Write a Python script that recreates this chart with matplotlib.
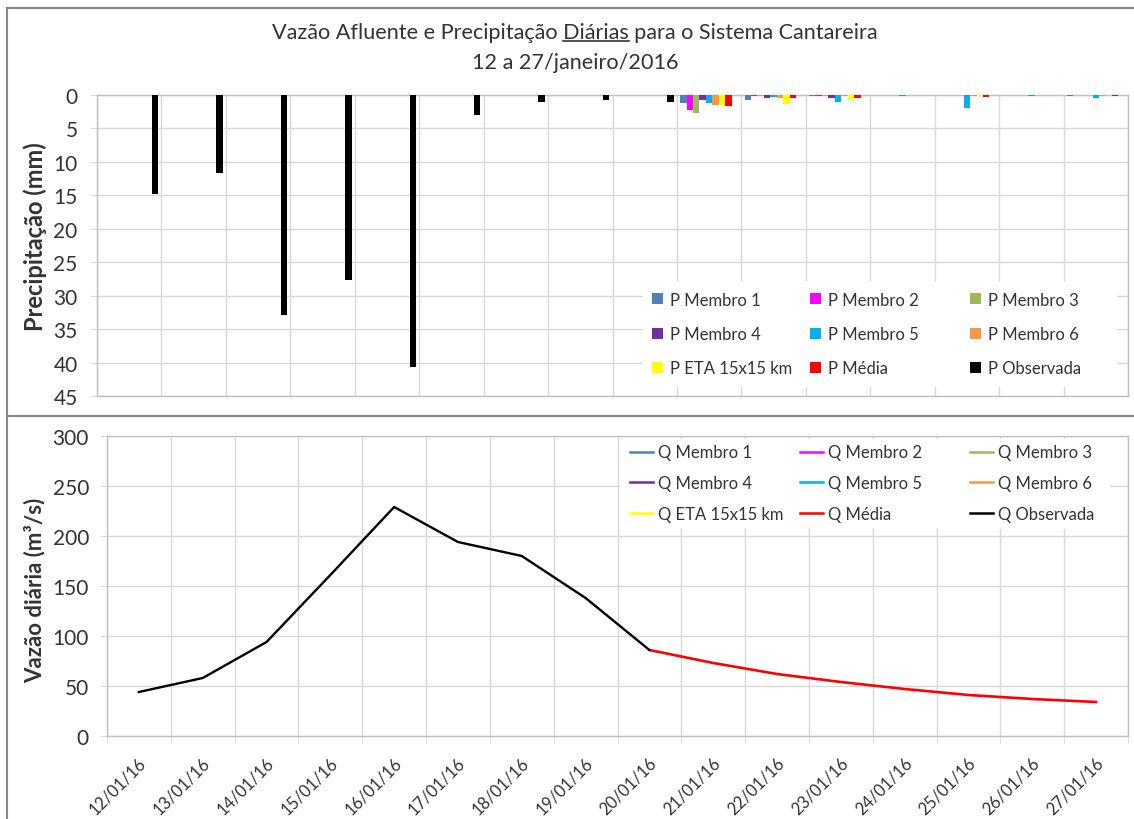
import numpy as np
import matplotlib
matplotlib.use("Agg")
import matplotlib.pyplot as plt
from matplotlib.patches import Patch, Rectangle
from matplotlib.lines import Line2D
from matplotlib.legend import Legend
from matplotlib.transforms import ScaledTranslation

plt.rcParams['font.family'] = ['Lato', 'DejaVu Sans']

# ---------------- data ----------------
dates = ["12/01/16", "13/01/16", "14/01/16", "15/01/16", "16/01/16", "17/01/16",
         "18/01/16", "19/01/16", "20/01/16", "21/01/16", "22/01/16", "23/01/16",
         "24/01/16", "25/01/16", "26/01/16", "27/01/16"]

nan = np.nan
# precipitation (mm)
p_membro1 = [0, 0, 0, 0, 0, 0, 0, 0, 0, 1.2, 0.7, 0.1, 0, 0, 0, 0.2]
p_membro2 = [0, 0, 0, 0, 0, 0, 0, 0, 0, 2.2, 0.1, 0.1, 0, 0, 0, 0]
p_membro3 = [0, 0, 0, 0, 0, 0, 0, 0, 0, 2.7, 0.2, 0.1, 0, 0, 0, 0]
p_membro4 = [0, 0, 0, 0, 0, 0, 0, 0, 0, 0.8, 0.5, 0.5, 0, 0, 0, 0]
p_membro5 = [0, 0, 0, 0, 0, 0, 0, 0, 0, 1.2, 0.3, 1.0, 0.1, 1.9, 0.1, 0.5]
p_membro6 = [0, 0, 0, 0, 0, 0, 0, 0, 0, 1.5, 0.4, 0.1, 0, 0.1, 0, 0.2]
p_eta = [0, 0, 0, 0, 0, 0, 0, 0, 0, 1.5, 1.3, 0.7, 0, 0.1, 0, 0]
p_media = [0, 0, 0, 0, 0, 0, 0, 0, 0, 1.6, 0.5, 0.5, 0, 0.3, 0, 0.2]
p_observada = [14.8, 11.7, 32.9, 27.7, 40.7, 3.0, 1.0, 0.8, 1.0,
               nan, nan, nan, nan, nan, nan, nan]

# flow (m3/s)
q_media = [nan, nan, nan, nan, nan, nan, nan, nan, 86, 73, 62, 54, 47, 41, 37, 34]
q_observada = [44, 58, 94, 161, 229, 194, 180, 138, 86,
               nan, nan, nan, nan, nan, nan, nan]
q_membros = [[], [], [], [], [], [], []]   # not visible in the chart

p_series = [
    ("P Membro 1", p_membro1, "#4f81bd"),
    ("P Membro 2", p_membro2, "#ff00ff"),
    ("P Membro 3", p_membro3, "#9bbb59"),
    ("P Membro 4", p_membro4, "#7030a0"),
    ("P Membro 5", p_membro5, "#00b0f0"),
    ("P Membro 6", p_membro6, "#f79646"),
    ("P ETA 15x15 km", p_eta, "#ffff00"),
    ("P Média", p_media, "#ff0000"),
    ("P Observada", p_observada, "#000000"),
]
q_labels = ["Q Membro 1", "Q Membro 2", "Q Membro 3", "Q Membro 4", "Q Membro 5",
            "Q Membro 6", "Q ETA 15x15 km", "Q Média", "Q Observada"]
q_colors = ["#4f81bd", "#ff00ff", "#9bbb59", "#7030a0", "#00b0f0", "#f79646",
            "#ffff00", "#ff0000", "#000000"]

# ---------------- figure ----------------
W, H = 1134, 820
fig = plt.figure(figsize=(W / 100, H / 100), dpi=100)


def fx(px):
    return px / W


def fy(py):
    return 1 - py / H


TXT = "#333333"
GRID = "#d9d9d9"
SPINE = "#bfbfbf"

ax1 = fig.add_axes([fx(97), fy(397), fx(1128) - fx(97), fy(96) - fy(397)])
ax2 = fig.add_axes([fx(107), fy(737), fx(1128) - fx(107), fy(437) - fy(737)])

x = np.arange(len(dates))
bounds = np.arange(len(dates) + 1) - 0.5

# ---- top: precipitation bars ----
bw = 0.1
for k, (lab, vals, col) in enumerate(p_series):
    ax1.bar(x + (k - 4) * bw, vals, width=bw, color=col, label=lab, zorder=3,
            linewidth=0)
ax1.set_xlim(-0.5, len(dates) - 0.5)
ax1.set_ylim(45, 0)
ax1.set_yticks(np.arange(0, 46, 5))
ax1.set_xticks(bounds)
ax1.set_xticklabels([])
ax1.tick_params(axis='x', length=0)
ax1.tick_params(axis='y', length=5, color=GRID, labelsize=15, labelcolor=TXT, pad=9)
ax1.grid(True, color=GRID, linewidth=1, zorder=0)
ax1.set_axisbelow(True)
for s in ax1.spines.values():
    s.set_color(SPINE)
    s.set_linewidth(1)

# ---- bottom: flow lines ----
for lab, col, vals in zip(q_labels[:7], q_colors[:7], q_membros):
    ax2.plot(vals, vals, color=col, lw=1.6, label=lab)
ax2.plot(x, q_media, color="#ff0000", lw=1.9, label="Q Média", zorder=4)
ax2.plot(x, q_observada, color="#000000", lw=1.7, label="Q Observada", zorder=5)
ax2.set_xlim(-0.5, len(dates) - 0.5)
ax2.set_ylim(0, 300)
ax2.set_yticks(np.arange(0, 301, 50))
ax2.set_xticks(bounds, minor=True)
ax2.set_xticks(x)
ax2.set_xticklabels(dates, rotation=45, ha='right', rotation_mode='anchor',
                    fontsize=12, color=TXT)
ax2.tick_params(axis='x', which='major', length=0, pad=13)
ax2.tick_params(axis='x', which='minor', length=5, color=GRID)
ax2.tick_params(axis='y', length=5, color=GRID, labelsize=15, labelcolor=TXT, pad=8)
ax2.grid(True, which='minor', axis='x', color=GRID, linewidth=1, zorder=0)
ax2.grid(True, which='major', axis='y', color=GRID, linewidth=1, zorder=0)
ax2.set_axisbelow(True)
for s in ax2.spines.values():
    s.set_color(SPINE)
    s.set_linewidth(1)
for lbl in ax2.get_xticklabels():
    lbl.set_transform(lbl.get_transform() + ScaledTranslation(-1 / 100, 0, fig.dpi_scale_trans))

# ---- legends (uniform columns like Excel) ----
def column_legends(ax, handles, labels, col_px, row_mid_px, ax_left, ax_right,
                   ax_top, ax_bot, box_px, **kw):
    aw = ax_right - ax_left
    ah = ax_bot - ax_top
    bx0, by0, bx1, by1 = box_px
    ax.add_patch(Rectangle(((bx0 - ax_left) / aw, (ax_bot - by1) / ah),
                           (bx1 - bx0) / aw, (by1 - by0) / ah,
                           transform=ax.transAxes, facecolor='white',
                           edgecolor='none', zorder=6))
    for c in range(3):
        hs = [handles[c + 3 * r] for r in range(3)]
        ls = [labels[c + 3 * r] for r in range(3)]
        leg = Legend(ax, hs, ls, loc='center left',
                     bbox_to_anchor=((col_px[c] - ax_left) / aw,
                                     (ax_bot - row_mid_px) / ah),
                     bbox_transform=ax.transAxes,
                     frameon=False, borderpad=0, borderaxespad=0,
                     prop={'size': 12}, labelcolor=TXT, **kw)
        leg.set_zorder(7)
        ax.add_artist(leg)


l1 = [lab for lab, _, _ in p_series]
h1 = [Patch(facecolor=c, edgecolor='none') for _, _, c in p_series]
column_legends(ax1, h1, l1, [652, 810, 970], 335, 97, 1128, 96, 397,
               (643, 282, 1117, 388), handlelength=0.65, handleheight=0.65,
               handletextpad=0.4, labelspacing=1.1)

h2 = [Line2D([], [], color=c, lw=1.8) for c in q_colors]
column_legends(ax2, h2, q_labels, [630, 800, 970], 484, 107, 1128, 437, 737,
               (620, 440, 1110, 530), handlelength=1.4,
               handletextpad=0.25, labelspacing=0.88)

# ---- axis titles ----
fig.text(fx(35), fy(237), "Precipitação (mm)", rotation=90, ha='center',
         va='center', fontsize=17, fontweight='bold', color=TXT)
fig.text(fx(35), fy(590), "Vazão diária (m³/s)", rotation=90, ha='center',
         va='center', fontsize=16, fontweight='bold', color=TXT)

# ---- title with underlined word ----
TS = 15.6
line1 = "Vazão Afluente e Precipitação Diárias para o Sistema Cantareira"
t1 = fig.text(fx(575), fy(33), line1, ha='center', va='center', fontsize=TS, color=TXT)
fig.text(fx(575), fy(63), "12 a 27/janeiro/2016", ha='center', va='center',
         fontsize=TS, color=TXT)
fig.canvas.draw()
r = fig.canvas.get_renderer()
bb = t1.get_window_extent(r)
tmpA = fig.text(0, 0, "Vazão Afluente e Precipitação Diárias", fontsize=TS)
tmpD = fig.text(0, 0, "Diárias", fontsize=TS)
wA = tmpA.get_window_extent(r).width
wD = tmpD.get_window_extent(r).width
tmpA.remove()
tmpD.remove()
ux1 = bb.x0 + wA
ux0 = ux1 - wD
uy = bb.y0 + 1
fig.add_artist(Line2D([ux0 / W, ux1 / W], [uy / H, uy / H], color=TXT, lw=1.2,
                      transform=fig.transFigure))

# ---- chart borders ----
BORDER = "#868686"
fig.add_artist(Line2D([fx(7), fx(7)], [fy(9), 0], color=BORDER, lw=1.5,
                      transform=fig.transFigure))
fig.add_artist(Line2D([fx(7), 1], [fy(9), fy(9)], color=BORDER, lw=1.5,
                      transform=fig.transFigure))
fig.add_artist(Line2D([fx(7), 1], [fy(417), fy(417)], color=BORDER, lw=1.5,
                      transform=fig.transFigure))

fig.savefig("out.png", dpi=100)
